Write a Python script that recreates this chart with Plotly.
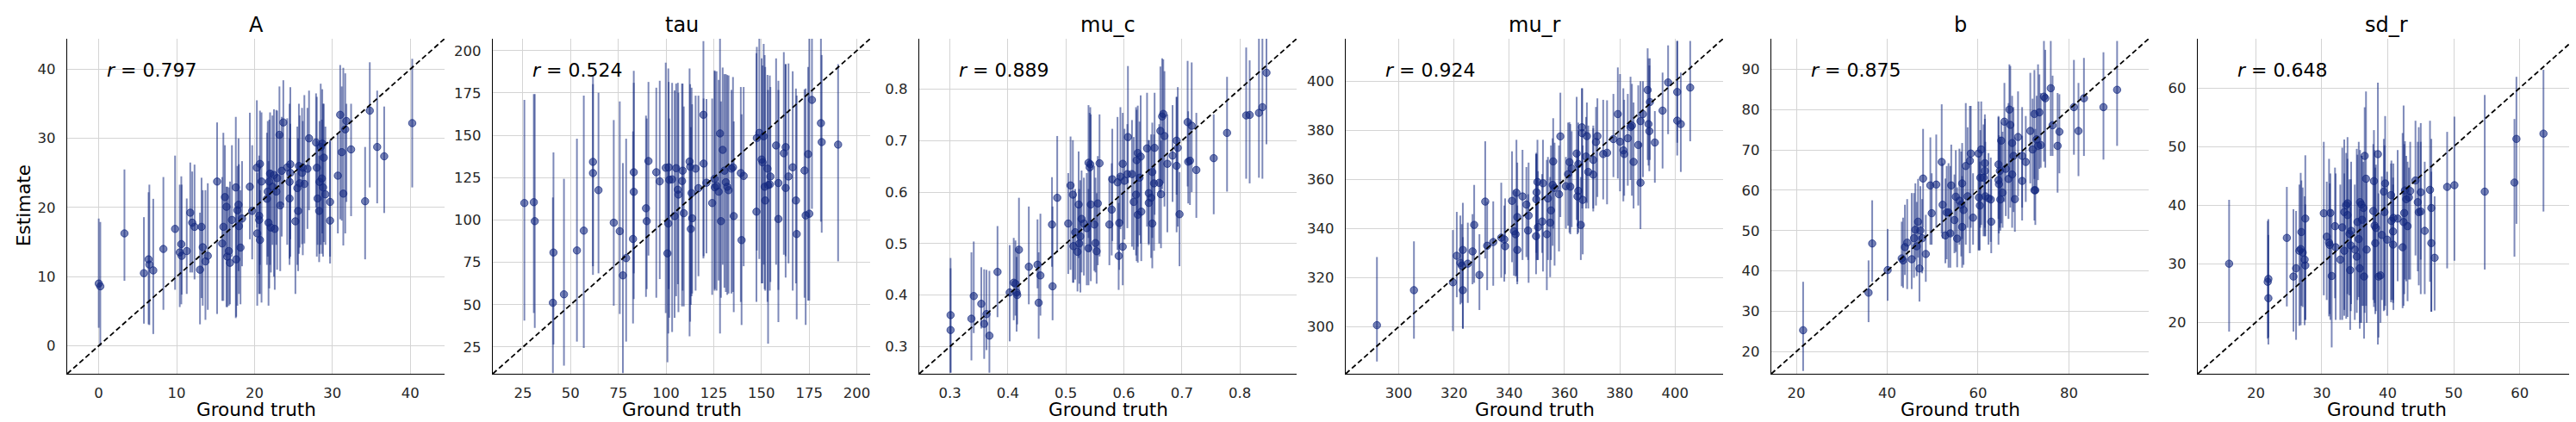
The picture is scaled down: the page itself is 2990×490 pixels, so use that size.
import plotly.graph_objects as go

# ---- panel A ----
A_true = [0.0, 0.2, 3.3, 5.8, 6.4, 6.5, 7.0, 8.3, 9.8, 10.4,
          10.6, 10.65, 11.3, 11.75, 12.0, 12.3, 13.0, 13.2, 13.35, 13.7,
          14.0, 15.2, 15.85, 16.0, 16.2, 16.4, 16.5, 16.7, 16.85, 17.1,
          17.6, 17.65, 17.8, 17.95, 18.0, 18.2, 18.4, 19.4, 19.7, 20.3,
          20.35, 20.7, 20.6, 20.6, 20.7, 20.9, 21.6, 21.7, 21.8, 21.9,
          22.0, 22.1, 22.3, 22.5, 22.6, 22.8, 22.9, 23.2, 23.3, 23.5,
          23.7, 24.2, 24.5, 24.5, 24.6, 24.6, 25.25, 25.5, 25.6, 25.7,
          25.8, 26.1, 26.2, 26.4, 26.8, 27.0, 27.9, 28.0, 28.1, 28.3,
          28.35, 28.5, 28.65, 28.7, 28.8, 28.9, 29.1, 29.7, 29.7, 30.7,
          31.0, 31.2, 31.4, 31.65, 31.8, 32.4, 34.2, 34.8, 35.75, 36.65,
          40.25]
A_est = [9.0, 8.6, 16.25, 10.5, 12.5, 11.75, 10.9, 14.0, 16.9, 13.5,
         14.7, 13.0, 13.7, 19.25, 17.8, 17.2, 11.0, 17.2, 14.25, 12.2,
         13.0, 23.75, 14.8, 17.2, 21.5, 20.1, 12.9, 13.7, 12.0, 18.2,
         22.9, 12.5, 19.6, 20.4, 17.3, 14.2, 18.4, 23.0, 19.5, 25.75,
         16.25, 26.3, 18.8, 18.2, 15.3, 23.75, 21.25, 22.3, 17.8, 23.75,
         24.9, 17.1, 23.0, 24.7, 16.9, 22.3, 24.25, 30.5, 20.3, 25.3,
         32.3, 25.8, 23.7, 21.3, 26.25, 25.0, 18.0, 22.8, 19.5, 26.0,
         23.5, 25.0, 25.75, 23.4, 25.6, 30.0, 29.4, 25.75, 21.3, 19.5,
         23.7, 28.75, 24.2, 29.25, 22.9, 27.2, 21.9, 18.1, 20.8, 24.6,
         33.4, 28.0, 22.0, 31.3, 32.5, 28.4, 20.9, 34.0, 28.75, 27.4,
         32.2]
A_lo = [2.6, 0.0, 9.4, 3.2, 3.1, 3.0, 1.7, 5.2, 8.1, 5.6,
        6.0, 7.4, 7.5, 10.6, 10.6, 9.6, 3.1, 6.9, 5.8, 3.75,
        5.2, 4.6, 6.5, 6.5, 12.9, 5.6, 5.6, 5.8, 6.0, 12.9,
        4.0, 4.2, 5.8, 10.8, 7.5, 6.0, 11.5, 15.4, 12.5, 17.1,
        5.8, 11.7, 10.4, 7.5, 7.5, 6.25, 11.7, 12.9, 5.8, 8.3,
        11.7, 10.6, 14.6, 10.0, 8.1, 14.6, 11.0, 20.0, 10.8, 15.8,
        20.4, 14.6, 12.6, 11.7, 15.4, 12.9, 7.5, 11.7, 10.8, 13.3,
        14.2, 14.7, 13.1, 14.8, 16.9, 19.6, 20.0, 12.9, 14.6, 12.1,
        13.3, 14.6, 13.3, 16.25, 12.9, 15.0, 14.6, 11.9, 12.9, 16.25,
        18.3, 18.1, 14.5, 16.25, 20.8, 18.75, 12.5, 22.9, 20.6, 19.2,
        22.9]
A_hi = [18.4, 17.9, 25.5, 18.6, 22.2, 23.3, 21.25, 24.4, 27.5, 23.3,
        24.5, 23.3, 21.3, 26.5, 25.2, 26.2, 19.25, 24.3, 22.5, 22.5,
        23.5, 32.3, 24.4, 30.8, 29.0, 23.0, 23.0, 22.9, 23.75, 29.0,
        33.1, 20.0, 26.0, 30.0, 26.25, 22.5, 26.7, 33.7, 29.0, 35.5,
        25.0, 34.0, 26.5, 27.5, 22.5, 33.75, 30.8, 32.5, 26.7, 32.7,
        33.75, 25.4, 33.3, 34.2, 24.2, 34.1, 34.0, 37.5, 30.8, 33.1,
        38.4, 32.9, 35.0, 30.0, 37.4, 32.1, 25.0, 31.7, 30.0, 35.0,
        33.3, 34.4, 32.5, 36.25, 34.4, 36.9, 36.5, 36.0, 29.6, 27.5,
        32.5, 37.9, 32.7, 37.1, 35.0, 35.0, 31.7, 29.6, 29.8, 30.8,
        40.6, 37.5, 40.2, 39.4, 35.0, 35.0, 28.75, 41.0, 36.9, 34.6,
        41.5]

# ---- panel tau ----
tau_true = [25.75, 30.7, 31.2, 40.7, 41.0, 46.5, 53.3, 56.9, 61.7, 61.7,
            64.6, 72.6, 75.75, 77.4, 79.1, 82.7, 83.1, 83.1, 89.5, 89.9,
            90.8, 94.9, 96.7, 99.85, 100.75, 101.2, 101.4, 101.7, 103.2, 104.5,
            105.3, 106.2, 106.5, 108.4, 108.7, 109.3, 112.35, 112.65, 113.0, 113.4,
            113.7, 115.5, 117.0, 119.6, 119.7, 121.2, 124.2, 125.45, 125.6, 126.5,
            127.6, 128.3, 128.8, 129.7, 130.6, 131.35, 132.1, 132.8, 134.3, 135.1,
            135.5, 139.2, 139.6, 140.7, 147.4, 147.6, 148.9, 150.1, 150.6, 151.2,
            151.7, 152.0, 153.2, 153.5, 154.4, 154.7, 157.7, 158.9, 158.9, 161.75,
            162.7, 162.7, 164.2, 166.4, 168.1, 168.5, 172.6, 173.2, 174.5, 175.1,
            176.5, 181.2, 181.6, 190.2]
tau_est = [110.0, 110.5, 99.3, 51.1, 80.8, 56.1, 82.0, 93.7, 134.3, 127.7,
           117.6, 98.4, 93.4, 67.3, 77.5, 88.8, 128.2, 116.6, 106.9, 99.3,
           134.8, 128.2, 122.8, 130.8, 80.3, 97.9, 131.1, 123.7, 124.0, 102.3,
           130.6, 117.9, 115.0, 123.0, 129.1, 104.0, 134.5, 131.4, 94.7, 115.9,
           101.0, 130.3, 118.8, 162.1, 133.3, 122.0, 110.0, 124.3, 119.3, 120.1,
           116.7, 151.1, 99.3, 141.4, 129.1, 122.3, 119.6, 117.6, 130.3, 131.1,
           102.3, 127.7, 88.1, 126.0, 104.9, 148.4, 151.4, 135.7, 134.0, 149.4,
           119.6, 111.5, 130.3, 120.6, 121.0, 125.7, 144.0, 121.8, 100.6, 139.4,
           143.0, 118.9, 125.7, 131.1, 111.5, 91.7, 129.2, 102.7, 138.9, 103.7,
           170.9, 157.2, 146.0, 144.5]
tau_lo = [40.6, 45.1, 36.3, 9.6, 26.5, 14.0, 28.2, 24.5, 67.6, 72.7,
          68.5, 49.4, 44.5, 9.6, 28.2, 38.9, 53.3, 68.5, 54.6, 59.2,
          79.0, 54.1, 65.1, 45.0, 16.0, 33.0, 59.2, 42.3, 33.8, 42.3,
          55.0, 62.1, 45.6, 49.0, 58.3, 49.0, 31.3, 40.0, 49.9, 55.0,
          56.6, 58.3, 66.8, 77.3, 78.6, 80.3, 55.8, 58.3, 59.2, 58.3,
          64.3, 33.0, 54.1, 73.6, 60.0, 57.5, 55.8, 56.6, 56.6, 57.5,
          45.6, 51.6, 38.0, 72.7, 51.6, 82.0, 77.0, 62.6, 62.6, 73.6,
          59.2, 58.3, 51.6, 27.0, 58.3, 63.4, 73.6, 58.7, 39.7, 79.5,
          66.0, 78.6, 74.4, 58.3, 62.6, 41.4, 54.1, 38.0, 52.4, 52.4,
          106.6, 99.0, 92.5, 75.6]
tau_hi = [170.9, 174.3, 174.3, 113.3, 139.9, 124.3, 148.0, 173.4, 185.3, 180.2,
          175.1, 159.0, 170.0, 133.6, 148.0, 152.3, 188.1, 181.0, 161.6, 159.9,
          181.5, 178.1, 182.2, 192.9, 129.4, 189.5, 181.5, 159.9, 181.0, 176.5,
          180.5, 181.0, 175.1, 180.5, 180.5, 167.0, 189.5, 180.2, 154.8, 178.1,
          168.3, 173.4, 173.4, 205.6, 171.7, 171.4, 171.7, 188.3, 187.8, 187.8,
          182.7, 207.3, 170.0, 190.0, 186.1, 186.1, 185.6, 185.3, 176.8, 184.4,
          158.2, 178.5, 162.4, 178.5, 198.5, 202.2, 209.0, 195.4, 191.2, 203.9,
          197.4, 190.3, 185.6, 176.8, 185.3, 178.5, 195.4, 182.2, 176.8, 199.1,
          192.0, 192.0, 192.4, 187.8, 177.6, 173.4, 177.1, 177.6, 190.3, 207.6,
          207.6, 207.0, 197.4, 192.0]

# ---- panel mu_c ----
muc_true = [0.301, 0.301, 0.337, 0.341, 0.354, 0.359, 0.363, 0.368, 0.382, 0.403,
            0.410, 0.413, 0.415, 0.416, 0.419, 0.436, 0.451, 0.453, 0.456, 0.476,
            0.477, 0.485, 0.504, 0.508, 0.512, 0.513, 0.516, 0.520, 0.522, 0.523,
            0.525, 0.527, 0.531, 0.536, 0.539, 0.539, 0.541, 0.542, 0.543, 0.549,
            0.551, 0.553, 0.555, 0.558, 0.575, 0.579, 0.580, 0.589, 0.591, 0.592,
            0.594, 0.598, 0.598, 0.601, 0.606, 0.607, 0.614, 0.617, 0.621, 0.622,
            0.624, 0.624, 0.627, 0.629, 0.630, 0.640, 0.643, 0.643, 0.647, 0.649,
            0.649, 0.652, 0.653, 0.661, 0.663, 0.664, 0.666, 0.668, 0.670, 0.675,
            0.684, 0.691, 0.691, 0.693, 0.696, 0.710, 0.711, 0.714, 0.717, 0.725,
            0.755, 0.778, 0.811, 0.817, 0.833, 0.839, 0.846]
muc_est = [0.361, 0.332, 0.354, 0.398, 0.383, 0.344, 0.363, 0.321, 0.445, 0.405,
           0.424, 0.422, 0.405, 0.400, 0.488, 0.455, 0.459, 0.385, 0.438, 0.537,
           0.417, 0.589, 0.539, 0.613, 0.595, 0.495, 0.522, 0.484, 0.576, 0.500,
           0.514, 0.548, 0.539, 0.530, 0.657, 0.491, 0.648, 0.654, 0.576, 0.537,
           0.501, 0.485, 0.578, 0.656, 0.537, 0.566, 0.625, 0.619, 0.476, 0.540,
           0.630, 0.655, 0.494, 0.622, 0.635, 0.707, 0.635, 0.581, 0.595, 0.662,
           0.556, 0.676, 0.628, 0.669, 0.562, 0.685, 0.598, 0.579, 0.589, 0.639,
           0.539, 0.617, 0.686, 0.618, 0.719, 0.596, 0.747, 0.752, 0.709, 0.655,
           0.671, 0.651, 0.700, 0.686, 0.557, 0.736, 0.659, 0.661, 0.729, 0.643,
           0.666, 0.715, 0.749, 0.750, 0.754, 0.765, 0.832]
muc_lo = [0.249, 0.249, 0.273, 0.326, 0.335, 0.276, 0.293, 0.249, 0.357, 0.310,
          0.351, 0.360, 0.329, 0.343, 0.399, 0.382, 0.413, 0.315, 0.360, 0.455,
          0.351, 0.483, 0.441, 0.449, 0.424, 0.424, 0.430, 0.407, 0.472, 0.422,
          0.405, 0.444, 0.438, 0.419, 0.511, 0.419, 0.484, 0.494, 0.427, 0.447,
          0.444, 0.422, 0.458, 0.475, 0.458, 0.477, 0.505, 0.488, 0.410, 0.449,
          0.528, 0.539, 0.419, 0.508, 0.530, 0.617, 0.494, 0.488, 0.477, 0.466,
          0.463, 0.494, 0.516, 0.500, 0.466, 0.533, 0.497, 0.500, 0.472, 0.511,
          0.452, 0.486, 0.556, 0.500, 0.600, 0.491, 0.606, 0.617, 0.572, 0.522,
          0.581, 0.522, 0.595, 0.533, 0.456, 0.611, 0.578, 0.575, 0.600, 0.550,
          0.557, 0.601, 0.626, 0.617, 0.628, 0.626, 0.693]
muc_hi = [0.472, 0.452, 0.483, 0.504, 0.454, 0.450, 0.449, 0.447, 0.534, 0.497,
          0.511, 0.506, 0.474, 0.491, 0.589, 0.572, 0.547, 0.483, 0.558, 0.629,
          0.572, 0.709, 0.637, 0.708, 0.701, 0.592, 0.606, 0.572, 0.679, 0.606,
          0.623, 0.642, 0.628, 0.637, 0.769, 0.606, 0.754, 0.765, 0.751, 0.651,
          0.628, 0.598, 0.670, 0.751, 0.631, 0.656, 0.723, 0.746, 0.579, 0.634,
          0.765, 0.754, 0.600, 0.723, 0.732, 0.845, 0.740, 0.707, 0.765, 0.760,
          0.662, 0.768, 0.737, 0.788, 0.673, 0.793, 0.701, 0.701, 0.712, 0.735,
          0.645, 0.712, 0.793, 0.732, 0.844, 0.700, 0.860, 0.858, 0.835, 0.751,
          0.769, 0.785, 0.785, 0.804, 0.639, 0.855, 0.757, 0.740, 0.852, 0.754,
          0.751, 0.824, 0.881, 0.856, 0.902, 0.900, 0.901]

# ---- panel mu_r ----
mur_true = [292.1, 305.5, 319.6, 321.0, 322.3, 323.2, 323.2, 322.8, 325.0, 326.7,
            327.3, 329.2, 331.3, 332.0, 334.2, 337.1, 338.2, 338.5, 341.0, 341.7,
            342.3, 342.6, 342.9, 342.9, 344.8, 346.2, 347.0, 346.8, 349.7, 349.8,
            349.9, 350.2, 350.4, 352.2, 351.9, 353.6, 354.0, 354.8, 355.1, 355.7,
            355.9, 356.4, 358.0, 358.5, 360.5, 361.3, 361.8, 362.1, 362.6, 364.4,
            365.0, 364.7, 365.0, 365.9, 366.4, 366.3, 366.6, 368.1, 367.8, 368.6,
            370.4, 370.4, 371.4, 371.9, 374.0, 375.4, 377.7, 379.3, 380.1, 381.3,
            381.6, 382.9, 383.9, 384.4, 385.0, 386.7, 387.5, 387.5, 388.4, 390.1,
            390.4, 390.7, 390.9, 392.7, 395.5, 397.5, 400.8, 400.8, 402.1, 405.5]
mur_est = [300.6, 314.9, 318.1, 328.9, 326.0, 331.3, 314.9, 324.9, 325.7, 330.7,
           341.5, 321.1, 351.0, 333.0, 334.5, 336.3, 335.6, 332.8, 351.3, 338.9,
           337.7, 354.6, 344.7, 331.3, 353.1, 349.8, 345.3, 339.2, 336.9, 351.9,
           354.8, 359.0, 340.6, 358.5, 342.9, 337.7, 352.3, 342.4, 347.4, 357.8,
           367.4, 356.6, 354.0, 377.6, 357.3, 362.2, 367.1, 357.1, 364.5, 370.6,
           366.3, 353.1, 355.4, 341.5, 378.9, 381.3, 351.7, 377.7, 369.4, 363.1,
           368.0, 362.0, 375.3, 377.7, 370.4, 370.9, 376.5, 386.7, 375.4, 371.9,
           370.4, 376.8, 381.4, 382.0, 367.2, 374.1, 383.8, 358.7, 386.7, 396.5,
           382.6, 379.7, 391.6, 375.1, 388.1, 399.6, 395.7, 384.0, 382.6, 397.5]
mur_lo = [285.8, 295.1, 298.2, 312.0, 309.1, 299.2, 299.2, 309.7, 309.7, 317.3,
          317.9, 306.8, 327.8, 314.9, 316.7, 320.0, 318.4, 321.4, 326.3, 320.8,
          320.4, 320.8, 318.4, 317.3, 327.2, 328.4, 317.9, 327.2, 321.4, 330.1,
          327.2, 327.2, 327.2, 322.5, 330.1, 314.9, 327.2, 320.2, 327.2, 333.0,
          340.0, 324.9, 330.7, 344.7, 340.0, 341.2, 338.3, 337.7, 340.6, 343.5,
          341.2, 337.7, 338.3, 327.2, 348.2, 352.9, 329.5, 350.5, 348.2, 348.2,
          348.2, 347.0, 349.4, 352.9, 351.9, 349.9, 361.0, 360.4, 355.2, 351.1,
          353.4, 357.5, 359.8, 353.4, 348.2, 349.4, 357.5, 339.8, 361.0, 368.0,
          365.7, 363.4, 368.0, 358.7, 364.5, 378.5, 375.0, 369.8, 363.1, 375.6]
mur_hi = [328.4, 334.8, 339.4, 346.8, 345.3, 350.5, 336.5, 341.8, 342.4, 345.9,
          357.8, 337.7, 375.6, 350.9, 351.1, 358.7, 349.4, 352.3, 371.5, 355.8,
          355.2, 376.2, 366.9, 349.4, 372.1, 365.1, 366.9, 354.0, 370.4, 370.9,
          370.4, 376.2, 363.4, 376.2, 362.2, 368.0, 369.2, 361.0, 373.9, 376.8,
          385.0, 375.0, 373.9, 395.4, 369.2, 383.2, 383.4, 382.6, 379.7, 393.7,
          380.3, 371.5, 383.2, 361.0, 397.2, 397.2, 373.9, 391.4, 385.5, 382.0,
          380.9, 382.0, 389.6, 393.1, 392.5, 392.3, 394.9, 405.7, 403.0, 397.2,
          392.5, 394.9, 401.9, 399.0, 391.4, 398.4, 400.1, 375.0, 400.1, 413.5,
          409.4, 406.5, 409.4, 387.9, 403.6, 414.7, 416.5, 416.5, 403.6, 416.5]

# ---- panel b ----
b_true = [21.5, 35.9, 36.7, 40.1, 43.2, 43.5, 43.9, 44.4, 45.4, 45.9,
          46.2, 46.5, 46.8, 47.1, 47.3, 47.7, 47.9, 48.5, 49.5, 49.8,
          50.8, 52.0, 52.2, 52.8, 53.1, 53.5, 53.9, 54.1, 54.8, 55.1,
          55.4, 55.9, 56.3, 56.5, 56.5, 56.8, 57.3, 57.7, 58.2, 58.4,
          58.9, 60.1, 60.2, 60.4, 60.5, 60.7, 61.2, 61.5, 61.5, 61.6,
          62.3, 62.9, 62.8, 64.5, 64.5, 64.6, 64.8, 64.9, 65.1, 65.4,
          65.8, 66.1, 66.7, 66.9, 67.1, 67.5, 67.5, 67.8, 68.1, 68.8,
          69.7, 69.7, 70.5, 71.5, 72.0, 72.4, 72.6, 72.4, 72.9, 73.2,
          73.5, 73.8, 74.5, 74.8, 76.0, 76.4, 77.5, 77.9, 81.1, 82.1,
          83.3, 87.6, 90.6]
b_est = [25.3, 34.6, 46.8, 40.2, 43.1, 42.6, 45.9, 47.0, 42.9, 48.1,
         50.2, 46.1, 52.2, 40.6, 50.0, 48.1, 62.9, 44.2, 61.2, 54.3,
         61.4, 67.0, 56.4, 48.8, 54.5, 54.5, 49.3, 61.2, 52.6, 58.4,
         48.0, 57.4, 56.4, 61.7, 50.9, 55.1, 66.0, 58.5, 67.3, 69.1,
         53.2, 69.1, 58.2, 56.2, 63.1, 70.1, 63.1, 64.8, 66.7, 58.5,
         58.0, 52.2, 57.7, 66.4, 62.5, 61.5, 64.8, 57.7, 72.3, 59.4,
         77.0, 65.3, 62.8, 80.0, 76.2, 71.7, 63.9, 68.5, 57.8, 73.2,
         62.3, 68.5, 67.0, 74.7, 70.1, 60.0, 60.0, 78.9, 72.6, 71.0,
         79.3, 71.2, 83.2, 82.8, 85.3, 76.1, 71.0, 74.5, 80.6, 74.7,
         82.8, 80.6, 84.9]
b_lo = [15.2, 27.3, 37.3, 32.6, 36.2, 35.8, 39.0, 35.5, 35.5, 38.3,
        42.9, 38.7, 43.3, 32.4, 41.5, 39.4, 50.7, 37.3, 46.5, 46.5,
        50.7, 49.3, 48.0, 41.9, 42.9, 40.8, 40.8, 48.6, 44.4, 44.7,
        40.9, 46.5, 43.6, 47.9, 40.8, 41.5, 46.5, 50.7, 44.4, 50.7,
        46.5, 45.1, 45.1, 45.1, 50.7, 51.4, 48.6, 48.6, 50.7, 48.6,
        46.5, 44.4, 47.2, 52.9, 46.5, 49.3, 50.7, 50.0, 51.8, 50.7,
        57.1, 53.6, 52.9, 63.5, 55.7, 57.1, 50.7, 54.6, 49.7, 58.5,
        52.5, 55.7, 57.1, 61.7, 60.0, 52.5, 51.4, 62.8, 59.3, 62.5,
        65.3, 65.6, 67.1, 65.6, 68.5, 68.5, 59.4, 64.2, 68.8, 63.5,
        68.5, 67.6, 71.0]
b_hi = [37.3, 42.6, 57.5, 50.4, 52.2, 53.2, 56.4, 57.8, 59.3, 59.3,
        61.7, 57.1, 62.8, 48.6, 61.0, 57.8, 75.2, 53.9, 73.1, 64.2,
        73.8, 81.3, 66.7, 62.9, 66.0, 66.7, 66.0, 71.3, 63.9, 69.9,
        60.7, 70.3, 69.6, 71.7, 63.5, 65.6, 81.6, 75.6, 80.9, 80.9,
        64.2, 82.0, 68.5, 67.1, 74.9, 82.0, 76.3, 77.7, 78.8, 72.0,
        69.2, 62.8, 68.1, 78.4, 78.1, 73.6, 72.5, 73.2, 76.8, 74.5,
        86.6, 77.4, 81.6, 91.2, 90.8, 83.4, 75.6, 80.6, 73.1, 84.5,
        73.5, 80.6, 78.4, 89.1, 82.7, 69.9, 75.2, 89.8, 83.4, 91.2,
        88.7, 84.1, 97.0, 94.8, 97.0, 88.4, 84.1, 83.8, 92.3, 86.6,
        92.8, 94.2, 97.0]

# ---- panel sd_r ----
sdr_true = [15.95, 21.8, 21.9, 21.9, 24.7, 25.7, 26.1, 26.6, 26.8, 26.9,
            27.1, 27.4, 27.5, 27.5, 30.3, 30.75, 31.1, 31.3, 31.2, 31.5,
            32.1, 32.0, 32.8, 33.1, 33.4, 33.4, 33.7, 33.9, 33.9, 34.2,
            34.3, 34.4, 34.45, 35.0, 35.3, 35.4, 35.6, 35.75, 35.8, 36.0,
            36.1, 36.5, 36.3, 36.4, 36.7, 36.8, 37.8, 37.9, 38.0, 38.1,
            38.2, 38.5, 38.6, 38.9, 39.1, 39.4, 39.5, 39.6, 39.9, 40.5,
            40.55, 40.8, 40.8, 40.85, 41.5, 42.25, 42.4, 42.6, 42.5, 42.8,
            43.0, 43.2, 43.4, 44.2, 44.55, 44.7, 45.0, 45.0, 45.6, 46.4,
            46.6, 46.6, 47.1, 49.0, 50.1, 54.7, 59.2, 59.5, 63.6]
sdr_est = [30.0, 26.9, 27.4, 24.1, 34.4, 27.8, 29.2, 32.2, 32.5, 35.4,
           31.9, 30.7, 29.7, 37.7, 38.6, 34.6, 33.6, 38.65, 33.2, 27.9,
           32.8, 36.4, 30.7, 36.2, 38.8, 32.2, 40.0, 40.3, 38.3, 35.1,
           28.9, 33.1, 35.6, 32.4, 31.2, 37.1, 34.2, 29.2, 40.5, 40.1,
           37.5, 48.4, 39.5, 27.8, 44.5, 32.4, 39.0, 44.1, 36.5, 33.5,
           36.1, 48.7, 27.8, 28.0, 34.9, 42.3, 38.8, 43.7, 34.1, 41.7,
           37.3, 35.5, 33.25, 37.8, 37.7, 32.8, 37.1, 42.5, 38.65, 41.0,
           36.4, 41.3, 42.4, 44.2, 40.5, 38.8, 42.2, 38.9, 35.6, 42.6,
           39.5, 33.5, 31.0, 43.1, 43.4, 42.3, 43.85, 51.3, 52.2]
sdr_lo = [18.4, 17.2, 17.4, 16.2, 22.7, 18.4, 17.0, 19.4, 19.5, 22.8,
          22.6, 19.5, 20.4, 20.4, 24.6, 23.8, 21.0, 20.4, 21.4, 15.7,
          20.4, 24.1, 20.4, 20.4, 22.1, 21.1, 20.6, 20.9, 24.8, 24.6,
          18.7, 21.9, 23.1, 20.4, 21.6, 23.8, 24.3, 18.9, 19.9, 19.9,
          22.8, 21.6, 22.8, 17.2, 22.8, 19.9, 23.8, 22.6, 23.3, 21.4,
          21.9, 16.2, 17.4, 19.9, 23.8, 21.9, 22.1, 22.8, 21.1, 23.4,
          23.8, 23.8, 23.3, 22.1, 27.0, 22.4, 22.8, 27.3, 24.8, 27.0,
          23.6, 27.3, 27.3, 31.4, 28.7, 26.3, 24.8, 30.7, 24.8, 26.9,
          21.8, 21.8, 22.0, 29.2, 30.5, 29.0, 31.2, 36.8, 38.9]
sdr_hi = [40.9, 37.3, 37.6, 34.9, 43.1, 39.3, 39.0, 43.5, 45.5, 44.2,
          43.0, 41.5, 40.1, 48.5, 50.8, 44.0, 47.9, 45.4, 43.7, 39.3,
          45.4, 46.4, 43.5, 49.8, 51.2, 45.4, 48.9, 51.6, 47.9, 44.4,
          39.7, 44.4, 47.4, 43.5, 49.6, 48.6, 50.8, 39.3, 49.4, 48.4,
          48.4, 56.7, 47.4, 39.5, 59.4, 44.0, 50.4, 52.8, 49.4, 46.4,
          46.9, 60.9, 42.0, 38.6, 44.9, 51.3, 50.2, 55.2, 45.7, 47.1,
          47.6, 43.5, 44.7, 47.1, 49.4, 52.3, 57.0, 50.9, 50.4, 48.4,
          47.4, 46.4, 50.8, 54.4, 50.8, 53.3, 54.0, 50.8, 47.4, 54.4,
          51.3, 45.7, 41.5, 52.5, 55.1, 58.8, 54.7, 61.9, 63.1]

panel_titles = ["A", "tau", "mu_c", "mu_r", "b", "sd_r"]
r_values = ["0.797", "0.524", "0.889", "0.924", "0.875", "0.648"]

panels = [
    (A_true, A_est, A_lo, A_hi),
    (tau_true, tau_est, tau_lo, tau_hi),
    (muc_true, muc_est, muc_lo, muc_hi),
    (mur_true, mur_est, mur_lo, mur_hi),
    (b_true, b_est, b_lo, b_hi),
    (sdr_true, sdr_est, sdr_lo, sdr_hi),
]
for p in panels:
    assert len(set(len(s) for s in p)) == 1, [len(s) for s in p]

# axis limits (same on x and y) and tick steps
lims = [(-4.05, 44.4), (9.2, 207.0), (0.247, 0.898), (280.8, 417.4), (14.5, 97.55), (11.2, 68.4)]
xsteps = [10, 25, 0.1, 20, 20, 10]
ysteps = [10, 25, 0.1, 20, 10, 10]

W, H = 2990, 490
left_px = [70, 564, 1059, 1554, 2048, 2543]
width_px = 438
top_px, bottom_px = 37, 426

base = "19,40,128"
font = "DejaVu Sans"

fig = go.Figure()
annotations = []
for i, (gt, est, lo, hi) in enumerate(panels):
    n = "" if i == 0 else str(i + 1)
    xa, ya = "x" + n, "y" + n
    fig.add_trace(go.Scatter(
        x=gt, y=est, mode="markers", xaxis=xa, yaxis=ya, showlegend=False,
        marker=dict(size=8.5, color=f"rgba({base},0.58)",
                    line=dict(width=1, color=f"rgba({base},0.7)")),
        error_y=dict(type="data", symmetric=False,
                     array=[h - e for h, e in zip(hi, est)],
                     arrayminus=[e - l for e, l in zip(est, lo)],
                     color=f"rgba({base},0.55)", thickness=2, width=0),
    ))
    lo_lim, hi_lim = lims[i]
    fig.add_trace(go.Scatter(
        x=[lo_lim, hi_lim], y=[lo_lim, hi_lim], mode="lines", xaxis=xa, yaxis=ya,
        showlegend=False, line=dict(color="black", width=1.8, dash="6px,3.5px"),
        hoverinfo="skip",
    ))
    d0 = left_px[i] / W
    d1 = (left_px[i] + width_px) / W
    common = dict(range=list(lims[i]), showgrid=True, gridcolor="#d4d4d4", gridwidth=1,
                  zeroline=False, showline=True, linecolor="black", linewidth=1.3,
                  ticks="", tickfont=dict(family=font, size=16.5, color="#262626"))
    fig.layout["xaxis" + n] = dict(common, domain=[d0, d1], anchor=ya, dtick=xsteps[i],
                                   tick0=0, ticklabelstandoff=7)
    fig.layout["yaxis" + n] = dict(common, domain=[1 - bottom_px / H, 1 - top_px / H],
                                   anchor=xa, dtick=ysteps[i], tick0=0, ticklabelstandoff=9)
    cx = (d0 + d1) / 2
    annotations.append(dict(text=panel_titles[i], x=cx, y=1 - 21 / H, xref="paper", yref="paper",
                            showarrow=False, xanchor="center", yanchor="middle",
                            font=dict(family=font, size=24, color="black")))
    annotations.append(dict(text="Ground truth", x=cx, y=1 - 467 / H, xref="paper", yref="paper",
                            showarrow=False, xanchor="center", yanchor="middle",
                            font=dict(family=font, size=21.5, color="black")))
    annotations.append(dict(text="<i>r</i> = " + r_values[i], x=0.1, y=0.905,
                            xref=xa + " domain", yref=ya + " domain",
                            showarrow=False, xanchor="left", yanchor="middle",
                            font=dict(family=font, size=22, color="black")))

annotations.append(dict(text="Estimate", x=19 / W, y=1 - 231 / H, xref="paper", yref="paper",
                        showarrow=False, textangle=-90, xanchor="center", yanchor="middle",
                        font=dict(family=font, size=21.5, color="black")))

fig.update_layout(width=W, height=H, margin=dict(l=0, r=0, t=0, b=0),
                  paper_bgcolor="white", plot_bgcolor="white",
                  annotations=annotations, font=dict(family=font))

fig.write_html("out.html")
